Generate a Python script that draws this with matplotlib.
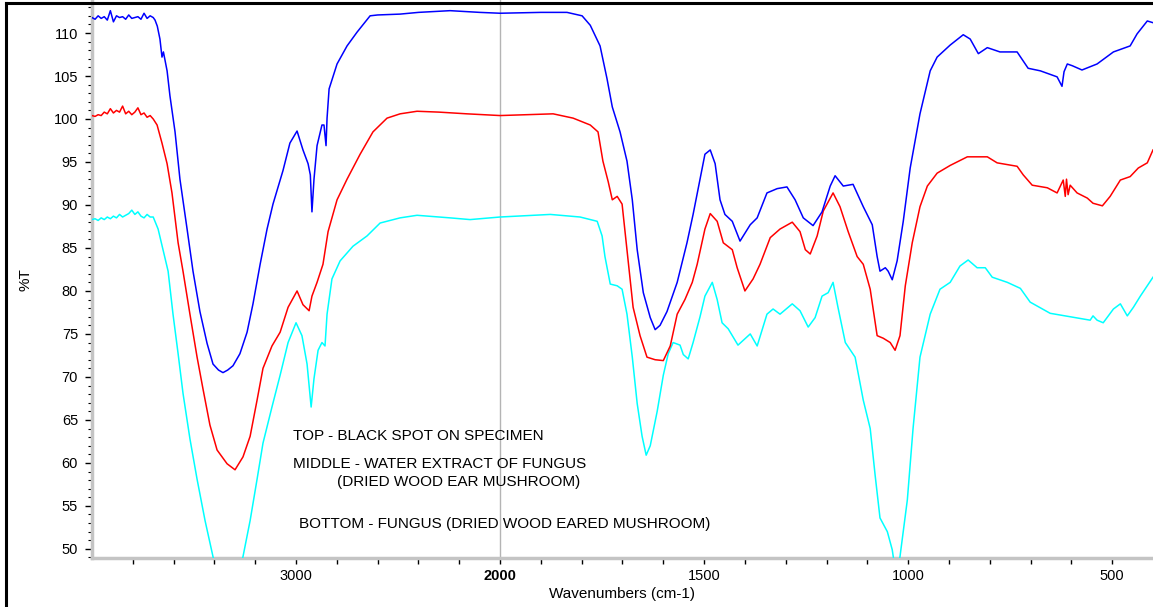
import numpy as np
import matplotlib
matplotlib.use("Agg")
import matplotlib.pyplot as plt
from matplotlib.lines import Line2D
from matplotlib.ticker import FixedLocator, MultipleLocator

# ---------------- data ----------------
top_wn = [4000, 3985, 3970, 3955, 3940, 3925, 3910, 3895, 3880, 3865,
          3850, 3835, 3820, 3805, 3790, 3775, 3760, 3745, 3730, 3715,
          3700, 3691, 3680, 3667, 3657, 3650, 3632, 3618, 3593, 3569,
          3534, 3505, 3471, 3436, 3407, 3380, 3358, 3335, 3309, 3275,
          3240, 3211, 3176, 3142, 3113, 3064, 3030, 2995, 2966, 2941,
          2930, 2922, 2912, 2897, 2873, 2863, 2853, 2848, 2838, 2799,
          2750, 2701, 2637, 2600, 2490, 2400, 2245, 2100, 2000, 1900,
          1836, 1799, 1779, 1755, 1738, 1725, 1706, 1689, 1676, 1664,
          1649, 1632, 1620, 1608, 1591, 1566, 1542, 1527, 1510, 1498,
          1485, 1473, 1461, 1449, 1431, 1412, 1387, 1370, 1346, 1321,
          1297, 1277, 1257, 1233, 1211, 1191, 1179, 1159, 1135, 1110,
          1088, 1076, 1069, 1056, 1049, 1039, 1027, 1012, 995, 971,
          946, 929, 897, 865, 848, 828, 806, 775, 733, 706,
          676, 635, 623, 618, 610, 598, 574, 537, 497, 456,
          439, 414, 400]
top_t = [111.8, 111.6, 112.0, 111.7, 111.9, 111.5, 112.6, 111.3, 112.0, 111.8,
         111.9, 111.6, 112.1, 111.7, 111.8, 111.9, 111.6, 112.3, 111.7, 112.0,
         111.8, 111.5, 110.8, 109.3, 107.2, 107.8, 105.6, 102.7, 98.5, 93.0,
         87.2, 82.3, 77.6, 73.9, 71.5, 70.8, 70.5, 70.8, 71.3, 72.7,
         75.2, 78.5, 83.1, 87.2, 90.1, 94.0, 97.2, 98.6, 96.4, 94.8,
         93.5, 89.2, 93.0, 96.9, 99.3, 99.3, 96.9, 100.1, 103.5, 106.4,
         108.5, 110.1, 112.0, 112.1, 112.2, 112.4, 112.6, 112.4, 112.3, 112.4,
         112.4, 112.0, 110.9, 108.5, 104.7, 101.4, 98.5, 95.1, 90.6, 84.8,
         79.8, 76.9, 75.5, 76.0, 77.6, 81.0, 85.6, 88.9, 93.0, 95.9,
         96.4, 94.8, 90.6, 88.9, 88.1, 85.8, 87.7, 88.5, 91.4, 91.9,
         92.1, 90.6, 88.5, 87.6, 89.2, 92.2, 93.4, 92.2, 92.4, 89.8,
         87.7, 84.0, 82.3, 82.7, 82.3, 81.3, 83.5, 88.1, 94.3, 100.6,
         105.6, 107.2, 108.6, 109.8, 109.3, 107.6, 108.3, 107.8, 107.8, 105.9,
         105.6, 104.9, 103.8, 105.5, 106.4, 106.2, 105.7, 106.4, 107.8, 108.5,
         109.9, 111.4, 111.2]

mid_wn = [4000, 3985, 3970, 3955, 3940, 3925, 3910, 3895, 3880, 3865,
          3850, 3835, 3820, 3805, 3790, 3775, 3760, 3745, 3730, 3715,
          3700, 3681, 3657, 3632, 3608, 3578, 3554, 3520, 3485, 3456,
          3422, 3387, 3338, 3299, 3260, 3225, 3191, 3162, 3118, 3078,
          3039, 2995, 2966, 2936, 2922, 2897, 2868, 2843, 2799, 2750,
          2686, 2623, 2554, 2490, 2407, 2300, 2162, 2000, 1870, 1821,
          1779, 1760, 1748, 1735, 1725, 1713, 1701, 1689, 1674, 1657,
          1640, 1620, 1600, 1583, 1566, 1547, 1529, 1517, 1498, 1485,
          1468, 1453, 1431, 1419, 1400, 1380, 1363, 1338, 1314, 1284,
          1265, 1252, 1240, 1223, 1208, 1184, 1167, 1147, 1125, 1110,
          1093, 1076, 1061, 1044, 1032, 1020, 1007, 990, 971, 953,
          929, 897, 855, 806, 782, 733, 718, 696, 659, 635,
          620, 615, 612, 608, 603, 586, 561, 547, 524, 505,
          480, 456, 436, 414, 400]
mid_t = [100.4, 100.3, 100.5, 100.4, 100.8, 100.6, 101.2, 100.7, 101.0, 100.8,
         101.5, 100.6, 100.9, 100.5, 100.8, 101.3, 100.5, 100.7, 100.2, 100.4,
         100.0, 99.3, 97.2, 94.8, 91.4, 85.6, 82.3, 77.3, 72.3, 68.6,
         64.4, 61.5, 59.9, 59.2, 60.7, 63.1, 67.3, 71.0, 73.6, 75.2,
         78.1, 80.0, 78.4, 77.7, 79.4, 81.0, 83.1, 86.9, 90.6, 93.0,
         95.9, 98.5, 100.1, 100.6, 100.9, 100.8, 100.6, 100.4, 100.6, 100.1,
         99.3, 98.5, 95.1, 92.7, 90.6, 91.0, 90.1, 84.8, 78.1, 74.8,
         72.3, 72.0, 71.9, 73.6, 77.3, 79.0, 81.0, 83.1, 87.2, 89.0,
         88.1, 85.6, 84.8, 82.7, 80.0, 81.4, 83.1, 86.2, 87.2, 88.0,
         86.9, 84.8, 84.3, 86.4, 89.3, 91.4, 89.8, 86.9, 84.0, 83.1,
         80.2, 74.8, 74.5, 74.0, 73.1, 74.8, 80.6, 85.6, 89.8, 92.2,
         93.7, 94.6, 95.6, 95.6, 94.9, 94.5, 93.5, 92.3, 92.0, 91.4,
         92.9, 91.0, 93.0, 91.2, 92.3, 91.4, 90.8, 90.2, 89.9, 91.0,
         92.9, 93.3, 94.3, 94.9, 96.4]

bot_wn = [4000, 3985, 3970, 3955, 3940, 3925, 3910, 3895, 3880, 3865,
          3850, 3835, 3820, 3805, 3790, 3775, 3760, 3745, 3730, 3715,
          3700, 3676, 3652, 3627, 3603, 3578, 3554, 3520, 3485, 3446,
          3407, 3370, 3335, 3300, 3260, 3225, 3191, 3162, 3118, 3078,
          3039, 3000, 2971, 2946, 2926, 2912, 2892, 2873, 2858, 2848,
          2824, 2784, 2721, 2652, 2588, 2490, 2407, 2245, 2147, 2000,
          1877, 1804, 1762, 1750, 1743, 1730, 1713, 1701, 1689, 1676,
          1664, 1652, 1642, 1632, 1615, 1600, 1588, 1576, 1559, 1551,
          1539, 1527, 1510, 1498, 1480, 1468, 1456, 1441, 1417, 1387,
          1370, 1346, 1331, 1314, 1284, 1265, 1245, 1228, 1211, 1196,
          1184, 1172, 1154, 1130, 1110, 1093, 1081, 1069, 1051, 1039,
          1030, 1020, 1002, 988, 971, 946, 922, 897, 873, 853,
          831, 811, 794, 757, 725, 701, 652, 603, 554, 547,
          537, 522, 497, 480, 463, 448, 431, 414, 400]
bot_t = [88.3, 88.4, 88.2, 88.5, 88.3, 88.6, 88.4, 88.7, 88.5, 88.9,
         88.6, 88.8, 89.0, 89.4, 88.9, 89.2, 88.7, 88.5, 88.9, 88.6,
         88.6, 87.2, 84.8, 82.3, 77.3, 72.7, 68.1, 62.8, 58.1, 53.3,
         49.1, 45.5, 42.5, 45.5, 49.1, 53.3, 58.1, 62.3, 66.5, 70.2,
         74.0, 76.3, 74.8, 71.5, 66.5, 69.8, 73.1, 74.0, 73.6, 77.3,
         81.4, 83.5, 85.2, 86.4, 87.9, 88.5, 88.8, 88.5, 88.3, 88.6,
         88.9, 88.6, 88.1, 86.4, 84.0, 80.8, 80.6, 80.2, 77.3, 72.3,
         66.9, 63.1, 60.9, 62.0, 66.0, 70.2, 72.7, 74.0, 73.7, 72.6,
         72.1, 74.0, 77.0, 79.4, 81.0, 79.0, 76.3, 75.6, 73.7, 75.0,
         73.6, 77.3, 77.9, 77.3, 78.5, 77.7, 75.8, 76.9, 79.4, 79.8,
         81.0, 78.1, 74.0, 72.3, 67.3, 64.0, 58.6, 53.6, 52.0, 49.9,
         47.0, 49.1, 55.7, 64.0, 72.3, 77.3, 80.2, 81.0, 82.9, 83.6,
         82.7, 82.7, 81.6, 81.0, 80.3, 78.7, 77.4, 77.0, 76.6, 77.1,
         76.6, 76.3, 77.9, 78.5, 77.1, 78.1, 79.4, 80.6, 81.6]

x_major = [3000, 2000, 1500, 1000, 500]
x_major_labels = ["3000", "2000", "1500", "1000", "500"]
x_minor = [3800, 3600, 3400, 3200, 2800, 2600, 2400, 2200] + list(range(1900, 400, -100))
y_major = list(range(50, 111, 5))

notes = [
    "TOP - BLACK SPOT ON SPECIMEN",
    "MIDDLE - WATER EXTRACT OF FUNGUS",
    "(DRIED WOOD EAR MUSHROOM)",
    "BOTTOM - FUNGUS (DRIED WOOD EARED MUSHROOM)",
]

# ---------------- figure ----------------
plt.rcParams['font.family'] = ['Liberation Sans', 'DejaVu Sans']
W, H = 1153, 607
fig = plt.figure(figsize=(W / 100, H / 100), dpi=100)
ax = fig.add_axes([92 / W, 1 - 558 / H, (W - 92) / W, 558 / H])


def fwd(w):
    w = np.asarray(w, dtype=float)
    return np.where(w > 2000, 2000 + (w - 2000) / 2.0, w)


def inv(p):
    p = np.asarray(p, dtype=float)
    return np.where(p > 2000, 2000 + (p - 2000) * 2.0, p)


ax.set_xscale('function', functions=(fwd, inv))

ax.axvline(2000, color='#b4b4b4', lw=1.0, zorder=1)
ax.plot(bot_wn, bot_t, color='#00ffff', lw=1.1, zorder=3)
ax.plot(mid_wn, mid_t, color='#ff0000', lw=1.1, zorder=3)
ax.plot(top_wn, top_t, color='#0000ff', lw=1.1, zorder=3)

ax.set_xlim(4000, 400)
ax.set_ylim(48.94, 113.84)

ax.xaxis.set_major_locator(FixedLocator(x_major))
ax.set_xticks(x_major, x_major_labels)
ax.xaxis.set_minor_locator(FixedLocator(x_minor))
ax.set_yticks(y_major)
ax.yaxis.set_minor_locator(MultipleLocator(1))

for s in ['top', 'right']:
    ax.spines[s].set_visible(False)
for s in ['left', 'bottom']:
    ax.spines[s].set_color('#c4c4c4')
    ax.spines[s].set_linewidth(2.5)

ax.tick_params(axis='x', which='both', direction='out', length=4, width=1,
               color='black', labelsize=10.5, pad=4)
ax.tick_params(axis='y', which='major', direction='out', length=5, width=1,
               color='black', labelsize=10.5, pad=5)
ax.tick_params(axis='y', which='minor', direction='out', length=3, width=0.8,
               color='black')
for lab in ax.get_xticklabels():
    if lab.get_text() == "2000":
        lab.set_fontweight('bold')

ax.set_xlabel("Wavenumbers (cm-1)", fontsize=11)
ax.xaxis.set_label_coords((622 - 92) / (W - 92), (558 - 594) / 558)
ax.xaxis.label.set_va('center')
ax.set_ylabel("%T", fontsize=11)
ax.yaxis.set_label_coords((25 - 92) / (W - 92), (558 - 280) / 558)
ax.yaxis.label.set_va('center')

note_pos = [(293, 440), (293, 468), (337, 486), (299, 528)]
for txt, (px, py) in zip(notes, note_pos):
    fig.text(px / W, 1 - py / H, txt, fontsize=11, va='baseline', ha='left')

# outer frame (left and top edges visible)
fx, fy = 6 / W, 1 - 3 / H
fig.add_artist(Line2D([fx, fx], [0, fy], transform=fig.transFigure,
                      color='black', lw=2.2))
fig.add_artist(Line2D([fx, 1], [fy, fy], transform=fig.transFigure,
                      color='black', lw=2.2))

fig.savefig("out.png", dpi=100)
